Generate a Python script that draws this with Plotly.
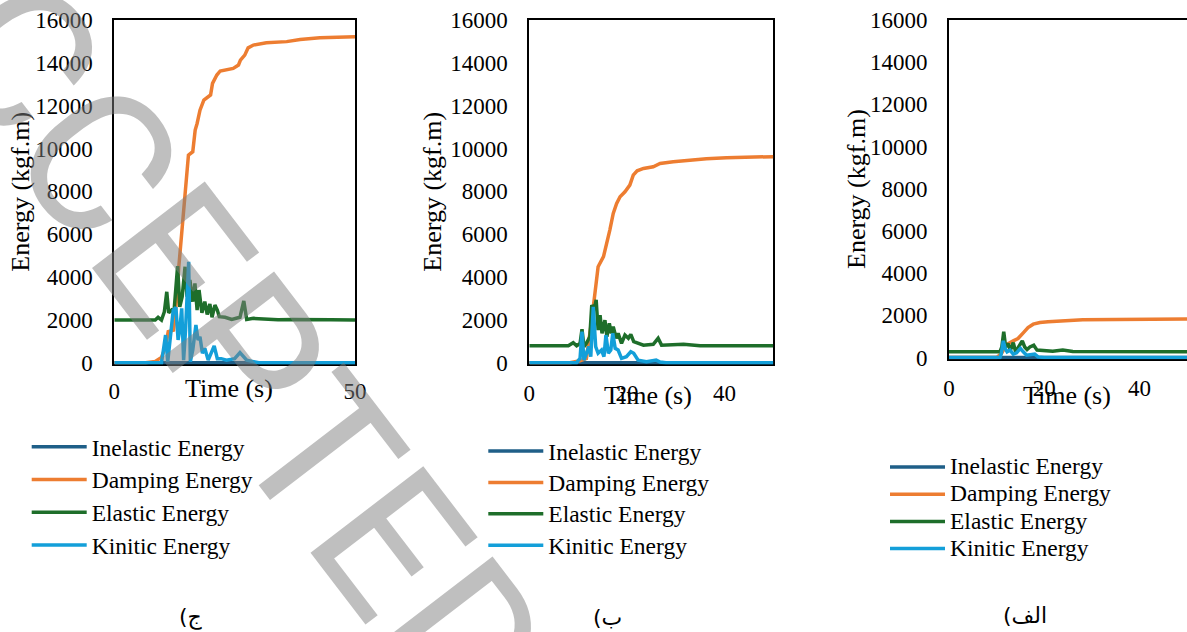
import plotly.graph_objects as go

W, H = 1187, 632

SERIES = ["Inelastic Energy", "Damping Energy", "Elastic Energy", "Kinitic Energy"]
COLORS = ["#1f5f88", "#ed7d31", "#1e6e2a", "#139fd9"]
Y_TICKS = [0, 2000, 4000, 6000, 8000, 10000, 12000, 14000, 16000]
PANEL_LABELS = ["ج)", "ب)", "الف)"]
X_TITLE = "Time (s)"
Y_TITLE = "Energy (kgf.m)"

# ---------------- panel ج ----------------
c_inel_t = [0, 50]
c_inel = [0, 0]
c_damp_t = [0, 6.5, 8.5, 9.8, 10.6, 11.2, 12.3, 12.7, 13.4, 14.3, 15.0, 15.4, 16.3, 16.8, 17.2,
            17.8, 18.6, 19.5, 20.0, 20.4, 21.3, 22.0, 24.7, 25.8, 26.2, 27.1, 27.8, 28.9, 31.6,
            35.8, 38.6, 42.7, 50.0]
c_damp = [0, 0, 60, 250, 700, 1450, 1520, 2300, 4480, 6970, 8840, 9690, 9850, 10860, 11170,
          11790, 12260, 12420, 12500, 13040, 13430, 13620, 13740, 13900, 14130, 14360, 14700,
          14830, 14940, 14990, 15090, 15170, 15220]
c_elas_t = [0, 8.5, 9.1, 9.8, 10.4, 10.9, 11.3, 11.9, 12.4, 13.15, 13.6, 14.1, 14.7, 15.1, 15.7,
            16.3, 16.75, 17.2, 17.6, 18.2, 18.8, 19.3, 19.85, 20.3, 20.9, 21.4, 21.8, 23.0, 24.4,
            26.1, 26.9, 27.5, 28.9, 31.0, 34.0, 37.0, 41.0, 45.0, 50.0]
c_elas = [1990, 1990, 2120, 1990, 2380, 3310, 2330, 2460, 2380, 4510, 2610, 3080, 4480, 3080,
          3860, 2850, 3700, 2460, 3390, 2330, 2850, 2250, 2740, 2120, 2690, 2460, 2150, 2120,
          2020, 2120, 2880, 2020, 2070, 2030, 2000, 2020, 1990, 2000, 1990]
c_kin_t = [0, 9.8, 10.2, 10.65, 11.1, 11.6, 12.25, 12.8, 13.25, 13.6, 14.0, 14.4, 14.8, 15.45,
           15.8, 16.3, 16.95, 17.4, 17.8, 18.3, 18.8, 19.5, 20.75, 21.4, 22.2, 23.3, 25.0, 26.1,
           26.8, 27.5, 28.9, 30.0, 50.0]
c_kin = [0, 0, 590, 1290, 50, 1060, 2460, 2580, 1060, 1530, 2540, 120, 1530, 4710, 50, 590,
         1760, 1060, 1210, 440, 670, 120, 780, 190, 190, 120, 190, 470, 280, 120, 50, 0, 0]

# ---------------- panel ب ----------------
b_inel_t = [0, 50]
b_inel = [0, 0]
b_damp_t = [0, 8.3, 10.4, 11.7, 12.8, 13.3, 13.8, 14.1, 15.2, 15.8, 16.5, 17.2, 17.9, 18.6, 19.6,
            20.6, 21.3, 22.1, 23.4, 25.4, 26.8, 29.5, 32.9, 36.3, 40.4, 45.2, 50.0]
b_damp = [0, 0, 90, 200, 2000, 3000, 3860, 4480, 4950, 5490, 6190, 6970, 7440, 7750, 7980, 8290,
          8760, 8960, 9070, 9150, 9300, 9380, 9460, 9520, 9570, 9600, 9620]
b_elas_t = [0, 8.0, 9.0, 9.7, 10.4, 10.8, 11.2, 11.7, 12.4, 12.8, 13.3, 13.7, 14.1, 14.5, 14.9,
            15.5, 15.9, 16.4, 16.8, 17.2, 17.8, 18.2, 18.9, 19.6, 20.3, 20.8, 21.4, 22.3, 23.4,
            25.4, 26.4, 27.1, 31.6, 35.0, 50.0]
b_elas = [790, 790, 930, 790, 900, 1560, 750, 900, 1210, 2690, 2460, 2930, 1520, 2220, 1370,
          1990, 1210, 1840, 1370, 1680, 1140, 1370, 900, 1290, 1140, 1320, 980, 900, 820, 860,
          1140, 820, 860, 794, 794]
b_kin_t = [0, 9.7, 10.4, 10.8, 11.2, 11.7, 12.2, 12.6, 13.1, 13.6, 14.1, 14.8, 15.3, 15.7, 16.2,
           16.7, 17.1, 17.6, 18.2, 18.9, 19.9, 20.8, 21.4, 22.3, 24.0, 26.0, 26.8, 28.0, 50.0]
b_kin = [0, 0, 200, 1450, 120, 440, 750, 280, 2610, 750, 440, 590, 280, 1290, 440, 590, 1370,
         670, 590, 200, 280, 510, 440, 120, 50, 120, 30, 0, 0]

# ---------------- panel الف ----------------
a_inel_t = [0, 50]
a_inel = [0, 0]
a_damp_t = [0, 10.0, 11.0, 12.2, 13.5, 14.5, 15.6, 16.6, 17.7, 19.1, 20.8, 22.5, 24.6, 28.1,
            35.1, 50.0]
a_damp = [0, 0, 190, 630, 790, 900, 1170, 1420, 1580, 1660, 1690, 1720, 1770, 1790, 1800, 1820]
a_elas_t = [0, 10.7, 11.1, 11.5, 11.9, 12.4, 12.9, 13.5, 14.0, 14.6, 15.4, 15.9, 16.4, 17.0, 17.8,
            18.5, 19.7, 21.8, 23.9, 26.0, 50.0]
a_elas = [270, 270, 500, 1220, 500, 660, 350, 700, 270, 500, 790, 500, 380, 500, 580, 350, 320,
          300, 350, 280, 270]
a_kin_t = [0, 10.7, 11.0, 11.4, 11.8, 12.2, 12.8, 13.5, 14.2, 15.0, 15.6, 16.3, 18.0, 18.7, 20.0,
           50.0]
a_kin = [0, 0, 190, 790, 430, 270, 350, 160, 220, 430, 270, 110, 160, 30, 0, 0]

panels = [
    dict(series=[(c_inel_t, c_inel), (c_damp_t, c_damp), (c_elas_t, c_elas), (c_kin_t, c_kin)],
         dtick=50, xlen=5),
    dict(series=[(b_inel_t, b_inel), (b_damp_t, b_damp), (b_elas_t, b_elas), (b_kin_t, b_kin)],
         dtick=20, xlen=7),
    dict(series=[(a_inel_t, a_inel), (a_damp_t, a_damp), (a_elas_t, a_elas), (a_kin_t, a_kin)],
         dtick=20, xlen=7),
]

SERIF = "Liberation Serif, Times New Roman, serif"

# plot-area boxes in pixels: left, right, y of zero, y of top
boxes = [(114.3, 355.0, 362.7, 20.0), (529.3, 773.3, 362.7, 20.0), (949.0, 1187.0, 357.5, 20.0)]
# legend placement (left px, top px, item height px)
legend_pos = [(26.7, 425.5, 32.7), (483.3, 430.3, 31.4), (885.0, 448.4, 27.2)]
LEGEND_TEXT = 23.5
Y_MIN = -80

fig = go.Figure()
layout = dict(
    width=W, height=H, margin=dict(l=0, r=0, t=0, b=0, pad=0, autoexpand=False),
    paper_bgcolor="white", plot_bgcolor="white", showlegend=True,
    font=dict(family=SERIF, color="black"),
)

for i, p in enumerate(panels):
    sfx = "" if i == 0 else str(i + 1)
    leg = "legend" if i == 0 else f"legend{i + 1}"
    for name, color, (tt, vv) in zip(SERIES, COLORS, p["series"]):
        fig.add_trace(go.Scatter(
            x=tt, y=vv, mode="lines", name=f'<span style="font-size:{LEGEND_TEXT}px">{name}</span>',
            line=dict(color=color, width=3.5), xaxis="x" + sfx, yaxis="y" + sfx,
            legend=leg, hoverinfo="skip",
        ))
    left, right, y0, ytop = boxes[i]
    per_unit = (y0 - ytop) / 16000.0
    ybot = y0 - Y_MIN * per_unit
    layout["xaxis" + sfx] = dict(
        domain=[left / W, min(right / W, 1.0)], range=[0, 50], tick0=0, dtick=p["dtick"],
        showline=True, linecolor="black", linewidth=2, mirror=True, showgrid=False,
        zeroline=False, ticks="outside", ticklen=p["xlen"], tickcolor="rgba(0,0,0,0)",
        tickfont=dict(family=SERIF, size=23, color="black"), layer="below traces",
        anchor="y" + sfx, fixedrange=True, automargin=False,
    )
    layout["yaxis" + sfx] = dict(
        domain=[(H - ybot) / H, (H - ytop) / H], range=[Y_MIN, 16000], tickvals=Y_TICKS,
        tickformat="d", showline=True, linecolor="black", linewidth=2, mirror=(i < 2),
        showgrid=False, zeroline=False, ticks="outside", ticklen=15,
        tickcolor="rgba(0,0,0,0)", tickfont=dict(family=SERIF, size=23, color="black"),
        layer="below traces", anchor="x" + sfx, fixedrange=True, automargin=False,
    )
    lx, ly, ih = legend_pos[i]
    layout[leg] = dict(
        x=lx / W, y=1 - ly / H, xanchor="left", yanchor="top", itemwidth=55,
        bgcolor="rgba(0,0,0,0)", borderwidth=0,
        font=dict(family=SERIF, size=(ih - 3) / 1.3, color="black"),
        tracegroupgap=0, itemclick=False, itemdoubleclick=False,
    )

fig.update_layout(**layout)

# axis titles and panel captions
x_title_pos = [(229, 388), (648, 395), (1066.7, 395)]
y_title_pos = [(21, 191.7), (433, 191.7), (856, 189)]
caption_pos = [(191, 617), (608, 617), (1025, 615)]
for i in range(3):
    xt, yt = x_title_pos[i]
    fig.add_annotation(x=xt / W, y=1 - yt / H, xref="paper", yref="paper", text=X_TITLE,
                       showarrow=False, xanchor="center", yanchor="middle",
                       font=dict(family=SERIF, size=26, color="black"))
    xt, yt = y_title_pos[i]
    fig.add_annotation(x=xt / W, y=1 - yt / H, xref="paper", yref="paper", text=Y_TITLE,
                       textangle=-90, showarrow=False, xanchor="center", yanchor="middle",
                       font=dict(family=SERIF, size=26, color="black"))
    xt, yt = caption_pos[i]
    fig.add_annotation(x=xt / W, y=1 - yt / H, xref="paper", yref="paper",
                       text=PANEL_LABELS[i] + "\u200f", showarrow=False,
                       xanchor="center", yanchor="middle",
                       font=dict(family="DejaVu Sans", size=22, color="black"))

# diagonal watermark
fig.add_annotation(x=202 / W, y=1 - 298 / H, xref="paper", yref="paper", text="ACCEPTED",
                   textangle=52.5, showarrow=False, xanchor="center", yanchor="middle",
                   font=dict(family="Liberation Sans Narrow, Roboto, sans-serif", size=200,
                             color="rgba(128,128,128,0.5)"))

fig.write_html("out.html", config={"displayModeBar": False})
